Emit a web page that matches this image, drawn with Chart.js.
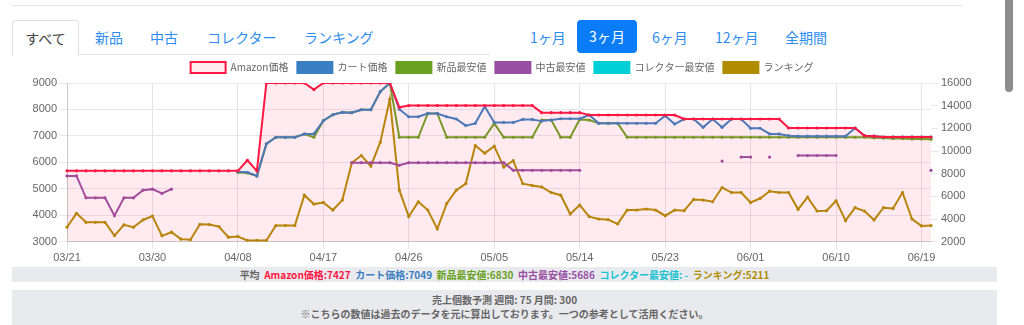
<!DOCTYPE html>
<html>
<head>
<meta charset="utf-8">
<script src="https://cdn.jsdelivr.net/npm/chart.js@4.4.0/dist/chart.umd.min.js"></script>
<style>
  body { margin: 0; background: #fff; font-family: "Noto Sans CJK JP", "Noto Sans", sans-serif; width: 1024px; height: 325px; overflow: hidden; position: relative; }
  .abs { position: absolute; }
  .topline { left: 12px; top: 5px; width: 950px; height: 1px; background: #e6e6e6; }
  .tabline { left: 79px; top: 54px; width: 411px; height: 1px; background: #e3e3e3; }
  .tab { top: 27px; font-size: 14px; color: #2d8cf0; white-space: nowrap; }
  .tab.active { left: 12px; top: 20px; width: 65px; height: 34px; border: 1px solid #e0e0e0; border-bottom: 1px solid #fff; border-radius: 4px 4px 0 0; color: #444; text-align: center; line-height: 34px; background: #fff; }
  .btn { top: 27px; font-size: 14px; color: #2d8cf0; white-space: nowrap; }
  .btn.active { left: 577px; top: 20px; width: 60px; height: 33px; background: #0a7cf7; color: #fff; border-radius: 4px; text-align: center; line-height: 33px; }
  .chartbox { left: 12px; top: 53px; width: 980px; height: 215px; }
  .band1 { left: 12px; top: 267px; width: 985px; height: 15px; background: #e9eaee; font-size: 10px; font-weight: bold; text-align: center; line-height: 15px; color: #666; }
  .band2 { left: 12px; top: 290px; width: 985px; height: 35px; background: #e9eaee; font-size: 10px; font-weight: bold; text-align: center; line-height: 14px; color: #666; padding-top: 3px; }
  .scroll { left: 1005px; top: 0px; width: 8px; height: 92px; background: #8c8c8c; border-radius: 0 0 4px 4px; }
</style>
</head>
<body>
<div class="abs topline"></div>
<div class="abs tab active">すべて</div>
<div class="abs tabline"></div>
<div class="abs tab" style="left:95px">新品</div>
<div class="abs tab" style="left:150px">中古</div>
<div class="abs tab" style="left:207px">コレクター</div>
<div class="abs tab" style="left:304px">ランキング</div>
<div class="abs btn" style="left:530px">1ヶ月</div>
<div class="abs btn active">3ヶ月</div>
<div class="abs btn" style="left:652px">6ヶ月</div>
<div class="abs btn" style="left:715px">12ヶ月</div>
<div class="abs btn" style="left:785px">全期間</div>
<div class="abs scroll"></div>

<div class="abs chartbox"><canvas id="priceChart"></canvas></div>

<div class="abs band1">平均&nbsp;
  <span style="color:#ff1744">Amazon価格:7427</span>&nbsp;
  <span style="color:#3a7fc1">カート価格:7049</span>&nbsp;
  <span style="color:#6aa121">新品最安値:6830</span>&nbsp;
  <span style="color:#984ea3">中古最安値:5686</span>&nbsp;
  <span style="color:#17c3d0">コレクター最安値: -</span>&nbsp;
  <span style="color:#b08d00">ランキング:5211</span>
</div>
<div class="abs band2">売上個数予測 週間: 75 月間: 300<br>※こちらの数値は過去のデータを元に算出しております。一つの参考として活用ください。</div>

<script>
// 03/21 - 06/20, one point per day
const startDay = new Date(2023, 2, 21);
const days = [];
for (let i = 0; i < 92; i++) {
  const d = new Date(startDay.getFullYear(), startDay.getMonth(), startDay.getDate() + i);
  days.push(String(d.getMonth() + 1).padStart(2, '0') + '/' + String(d.getDate()).padStart(2, '0'));
}

const amazonPrice = [
  5680, 5680, 5680, 5680, 5680, 5680, 5680, 5680, 5680, 5680,
  5680, 5680, 5680, 5680, 5680, 5680, 5680, 5680, 5680, 6080,
  5680, 9000, 9000, 9000, 9000, 9000, 8750, 9000, 9000, 9000,
  9000, 9000, 9000, 9000, 9000, 8080, 8150, 8150, 8150, 8150,
  8150, 8150, 8150, 8150, 8150, 8150, 8150, 8150, 8150, 8150,
  7880, 7880, 7880, 7880, 7880, 7790, 7790, 7790, 7790, 7790,
  7790, 7790, 7790, 7790, 7790, 7640, 7640, 7640, 7640, 7640,
  7640, 7640, 7640, 7640, 7640, 7640, 7300, 7300, 7300, 7300,
  7300, 7300, 7300, 7300, 7010, 6990, 6960, 6960, 6960, 6960,
  6960, 6960
];

const cartPrice = [
  null, null, null, null, null, null, null, null, null, null,
  null, null, null, null, null, null, null, null, 5650, 5625,
  5490, 6700, 6950, 6950, 6950, 7075, 7075, 7575, 7800, 7890,
  7880, 7990, 7990, 8675, 9000, 8010, 7725, 7725, 7850, 7850,
  7725, 7640, 7390, 7475, 8110, 7510, 7510, 7510, 7625, 7625,
  7560, 7600, 7650, 7650, 7650, 7790, 7475, 7475, 7475, 7475,
  7475, 7475, 7475, 7760, 7450, 7640, 7640, 7325, 7640, 7325,
  7640, 7640, 7290, 7290, 7075, 7075, 7010, 6990, 6990, 6990,
  6990, 6990, 6990, 7300, 7010, 6990, 6960, 6960, 6960, 6960,
  6960, 6960
];

const newLowest = [
  null, null, null, null, null, null, null, null, null, null,
  null, null, null, null, null, null, null, null, 5620, 5600,
  5490, 6700, 6950, 6950, 6950, 7075, 6950, 7575, 7800, 7890,
  7880, 7990, 7990, 8675, 9000, 6950, 6950, 6950, 7850, 7850,
  6950, 6950, 6950, 6950, 6950, 7475, 6950, 6950, 6950, 6950,
  7600, 7600, 6950, 6950, 7625, 7600, 7475, 7475, 7475, 6950,
  6950, 6950, 6950, 6950, 6950, 6950, 6950, 6950, 6950, 6950,
  6950, 6950, 6950, 6950, 6950, 6950, 6950, 6950, 6950, 6950,
  6950, 6950, 6950, 6950, 6950, 6930, 6920, 6900, 6900, 6880,
  6880, 6870
];

const usedLowest = [
  5490, 5490, 4660, 4660, 4660, 3990, 4660, 4660, 4950, 4990,
  4825, 4990, null, null, null, null, null, null, null, null,
  null, null, null, null, null, null, null, null, null, null,
  5990, 5990, 5990, 5990, 5990, 5890, 5990, 5990, 5990, 5990,
  5990, 5990, 5990, 5990, 5990, 5990, 5990, 5700, 5700, 5700,
  5700, 5700, 5700, 5700, 5700, null, null, null, null, null,
  null, null, null, null, null, null, null, null, null, 6050,
  null, 6200, 6200, null, 6200, null, null, 6260, 6260, 6260,
  6260, 6260, null, null, null, null, null, null, null, null,
  null, 5700
];

const collectorLowest = new Array(92).fill(null);

const ranking = [
  3285, 4510, 3720, 3720, 3720, 2550, 3490, 3285, 3925, 4275,
  2525, 2845, 2235, 2175, 3545, 3520, 3340, 2410, 2470, 2120,
  2120, 2120, 3430, 3430, 3430, 6110, 5325, 5470, 4800, 5675,
  8970, 9610, 8680, 10780, 14570, 6550, 4220, 5530, 4800, 3140,
  5385, 6550, 7130, 10490, 9815, 10430, 8590, 9150, 7130, 6955,
  6840, 6345, 6110, 4450, 5240, 4220, 4010, 3950, 3575, 4800,
  4800, 4890, 4800, 4300, 4800, 4740, 5735, 5675, 5530, 6785,
  6345, 6345, 5470, 5820, 6460, 6345, 6345, 4860, 5940, 4710,
  4740, 5615, 3865, 5005, 4710, 3925, 5005, 4945, 6345, 4010,
  3400, 3430
];

const priceTicks = [3000, 9000, 1000];
const rankTicks = [2000, 16000, 2000];

function lineSet(label, data, color, axis) {
  return {
    label: label,
    data: data,
    borderColor: color,
    backgroundColor: color,
    pointBackgroundColor: color,
    borderWidth: 2,
    pointRadius: 1.6,
    pointBorderWidth: 0,
    pointHoverRadius: 3,
    tension: 0,
    fill: false,
    spanGaps: false,
    yAxisID: axis
  };
}

const amazonSet = lineSet('Amazon価格', amazonPrice, '#ff1744', 'yPrice');
amazonSet.backgroundColor = 'rgba(255, 60, 100, 0.1)';
amazonSet.fill = 'start';

const ctx = document.getElementById('priceChart').getContext('2d');
new Chart(ctx, {
  type: 'line',
  data: {
    labels: days,
    datasets: [
      amazonSet,
      lineSet('カート価格', cartPrice, '#3a7fc1', 'yPrice'),
      lineSet('新品最安値', newLowest, '#6aa121', 'yPrice'),
      lineSet('中古最安値', usedLowest, '#984ea3', 'yPrice'),
      lineSet('コレクター最安値', collectorLowest, '#00cfd6', 'yPrice'),
      lineSet('ランキング', ranking, '#b08d00', 'yRank')
    ]
  },
  options: {
    responsive: true,
    maintainAspectRatio: false,
    animation: false,
    layout: { padding: 0 },
    plugins: {
      legend: {
        position: 'top',
        labels: {
          boxWidth: 35,
          boxHeight: 11,
          padding: 9,
          color: '#666',
          font: { size: 10, family: '"Noto Sans CJK JP"' }
        }
      },
      tooltip: { enabled: false }
    },
    scales: {
      x: {
        ticks: {
          autoSkip: false,
          maxRotation: 0,
          minRotation: 0,
          color: '#666',
          font: { size: 11 },
          callback: function (val, i) { return i % 9 === 0 ? this.getLabelForValue(val) : ''; }
        },
        grid: {
          color: c => (c.index % 9 === 0 ? '#e2e2ea' : 'rgba(0,0,0,0)'),
          tickLength: 7
        },
        border: { color: '#c8c8c8' }
      },
      yPrice: {
        position: 'left',
        min: priceTicks[0],
        max: priceTicks[1],
        ticks: { stepSize: priceTicks[2], color: '#666', font: { size: 11 }, callback: v => String(v) },
        grid: { color: '#e6e6ee', tickLength: 7 },
        border: { color: '#c8c8c8' },
        afterFit: s => { s.width = 55; }
      },
      yRank: {
        position: 'right',
        min: rankTicks[0],
        max: rankTicks[1],
        ticks: { stepSize: rankTicks[2], color: '#666', font: { size: 11 }, callback: v => String(v) },
        grid: { drawOnChartArea: false, color: '#e6e6ee', tickLength: 7 },
        border: { display: false },
        afterFit: s => { s.width = 61; }
      }
    }
  }
});
</script>
</body>
</html>
